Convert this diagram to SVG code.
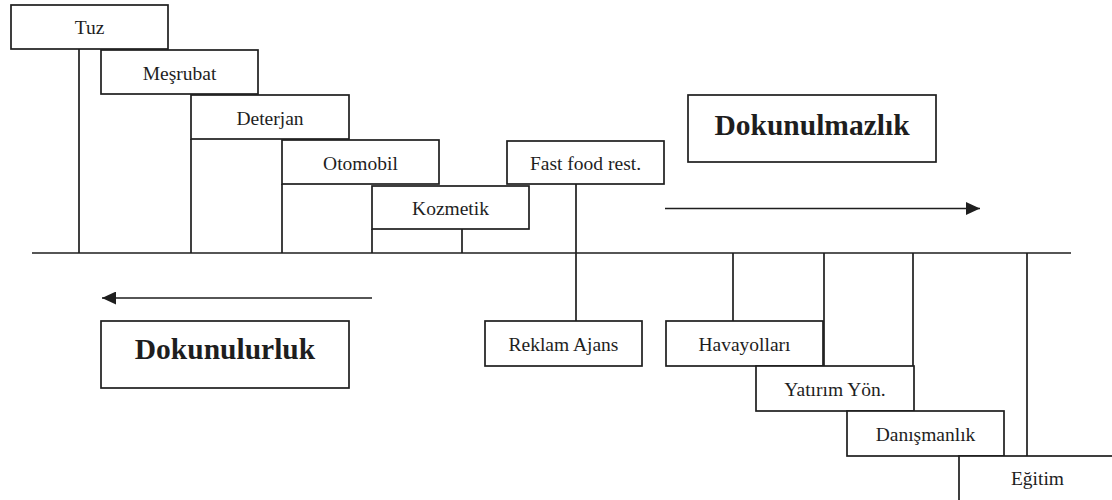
<svg xmlns="http://www.w3.org/2000/svg" width="1112" height="500" viewBox="0 0 1112 500">
  <style>
    .box { fill: #ffffff; stroke: #1e1e1e; stroke-width: 1.7; }
    .ln { stroke: #1e1e1e; stroke-width: 1.7; fill: none; }
    .lbl { font-family: "Liberation Serif", "Times New Roman", serif; font-size: 19.5px; fill: #1e1e1e; text-anchor: middle; }
    .big { font-family: "Liberation Serif", "Times New Roman", serif; font-size: 29.5px; font-weight: bold; fill: #1e1e1e; text-anchor: middle; }
  </style>
  <defs>
    <marker id="head" viewBox="0 0 14 13" refX="14" refY="6.5" markerWidth="14" markerHeight="13" markerUnits="userSpaceOnUse" orient="auto">
      <path d="M0,0 L14,6.5 L0,13 Z" fill="#1e1e1e"/>
    </marker>
  </defs>

  <rect width="1112" height="500" fill="#ffffff"/>

  <!-- connectors: axis, drop lines and direction arrows -->
  <g id="connectors">
    <line class="ln" x1="32" y1="253" x2="1071" y2="253"/>
    <line class="ln" x1="79" y1="49" x2="79" y2="253"/>
    <line class="ln" x1="191" y1="139" x2="191" y2="253"/>
    <line class="ln" x1="282" y1="184" x2="282" y2="253"/>
    <line class="ln" x1="372" y1="229" x2="372" y2="253"/>
    <line class="ln" x1="462" y1="229" x2="462" y2="253"/>
    <line class="ln" x1="576" y1="184" x2="576" y2="321"/>
    <line class="ln" x1="733" y1="253" x2="733" y2="321"/>
    <line class="ln" x1="824" y1="253" x2="824" y2="366"/>
    <line class="ln" x1="913" y1="253" x2="913" y2="411"/>
    <line class="ln" x1="1027" y1="253" x2="1027" y2="456"/>
    <line class="ln" x1="665" y1="208.5" x2="980" y2="208.5" marker-end="url(#head)"/>
    <line class="ln" x1="372" y1="298" x2="102" y2="298" marker-end="url(#head)"/>
  </g>

  <g id="tuz">
    <rect class="box" x="11" y="5" width="157" height="44"/>
    <text class="lbl" x="89.5" y="34">Tuz</text>
  </g>
  <g id="mesrubat">
    <rect class="box" x="101" y="50" width="157" height="44"/>
    <text class="lbl" x="179.5" y="80">Meşrubat</text>
  </g>
  <g id="deterjan">
    <rect class="box" x="191" y="95" width="158" height="44"/>
    <text class="lbl" x="270" y="125">Deterjan</text>
  </g>
  <g id="otomobil">
    <rect class="box" x="282" y="140" width="157" height="44"/>
    <text class="lbl" x="360.5" y="170">Otomobil</text>
  </g>
  <g id="fastfood">
    <rect class="box" x="507" y="141" width="157" height="43"/>
    <text class="lbl" x="585.5" y="170">Fast food rest.</text>
  </g>
  <g id="kozmetik">
    <rect class="box" x="372" y="186" width="157" height="43"/>
    <text class="lbl" x="450.5" y="215">Kozmetik</text>
  </g>
  <g id="reklam">
    <rect class="box" x="485" y="321" width="157" height="45"/>
    <text class="lbl" x="563.5" y="351">Reklam Ajans</text>
  </g>
  <g id="havayollari">
    <rect class="box" x="666" y="321" width="157" height="45"/>
    <text class="lbl" x="744.5" y="351">Havayolları</text>
  </g>
  <g id="yatirim">
    <rect class="box" x="756" y="366" width="158" height="45"/>
    <text class="lbl" x="835" y="396">Yatırım Yön.</text>
  </g>
  <g id="danismanlik">
    <rect class="box" x="847" y="411" width="157" height="45"/>
    <text class="lbl" x="925.5" y="441">Danışmanlık</text>
  </g>
  <g id="egitim">
    <rect class="box" x="959" y="456" width="157" height="46"/>
    <text class="lbl" x="1037.5" y="485">Eğitim</text>
  </g>
  <g id="dokunulmazlik">
    <rect class="box" x="688" y="95" width="248" height="67"/>
    <text class="big" x="812" y="135">Dokunulmazlık</text>
  </g>
  <g id="dokunulurluk">
    <rect class="box" x="101" y="321" width="248" height="67"/>
    <text class="big" x="225" y="359">Dokunulurluk</text>
  </g>
</svg>
